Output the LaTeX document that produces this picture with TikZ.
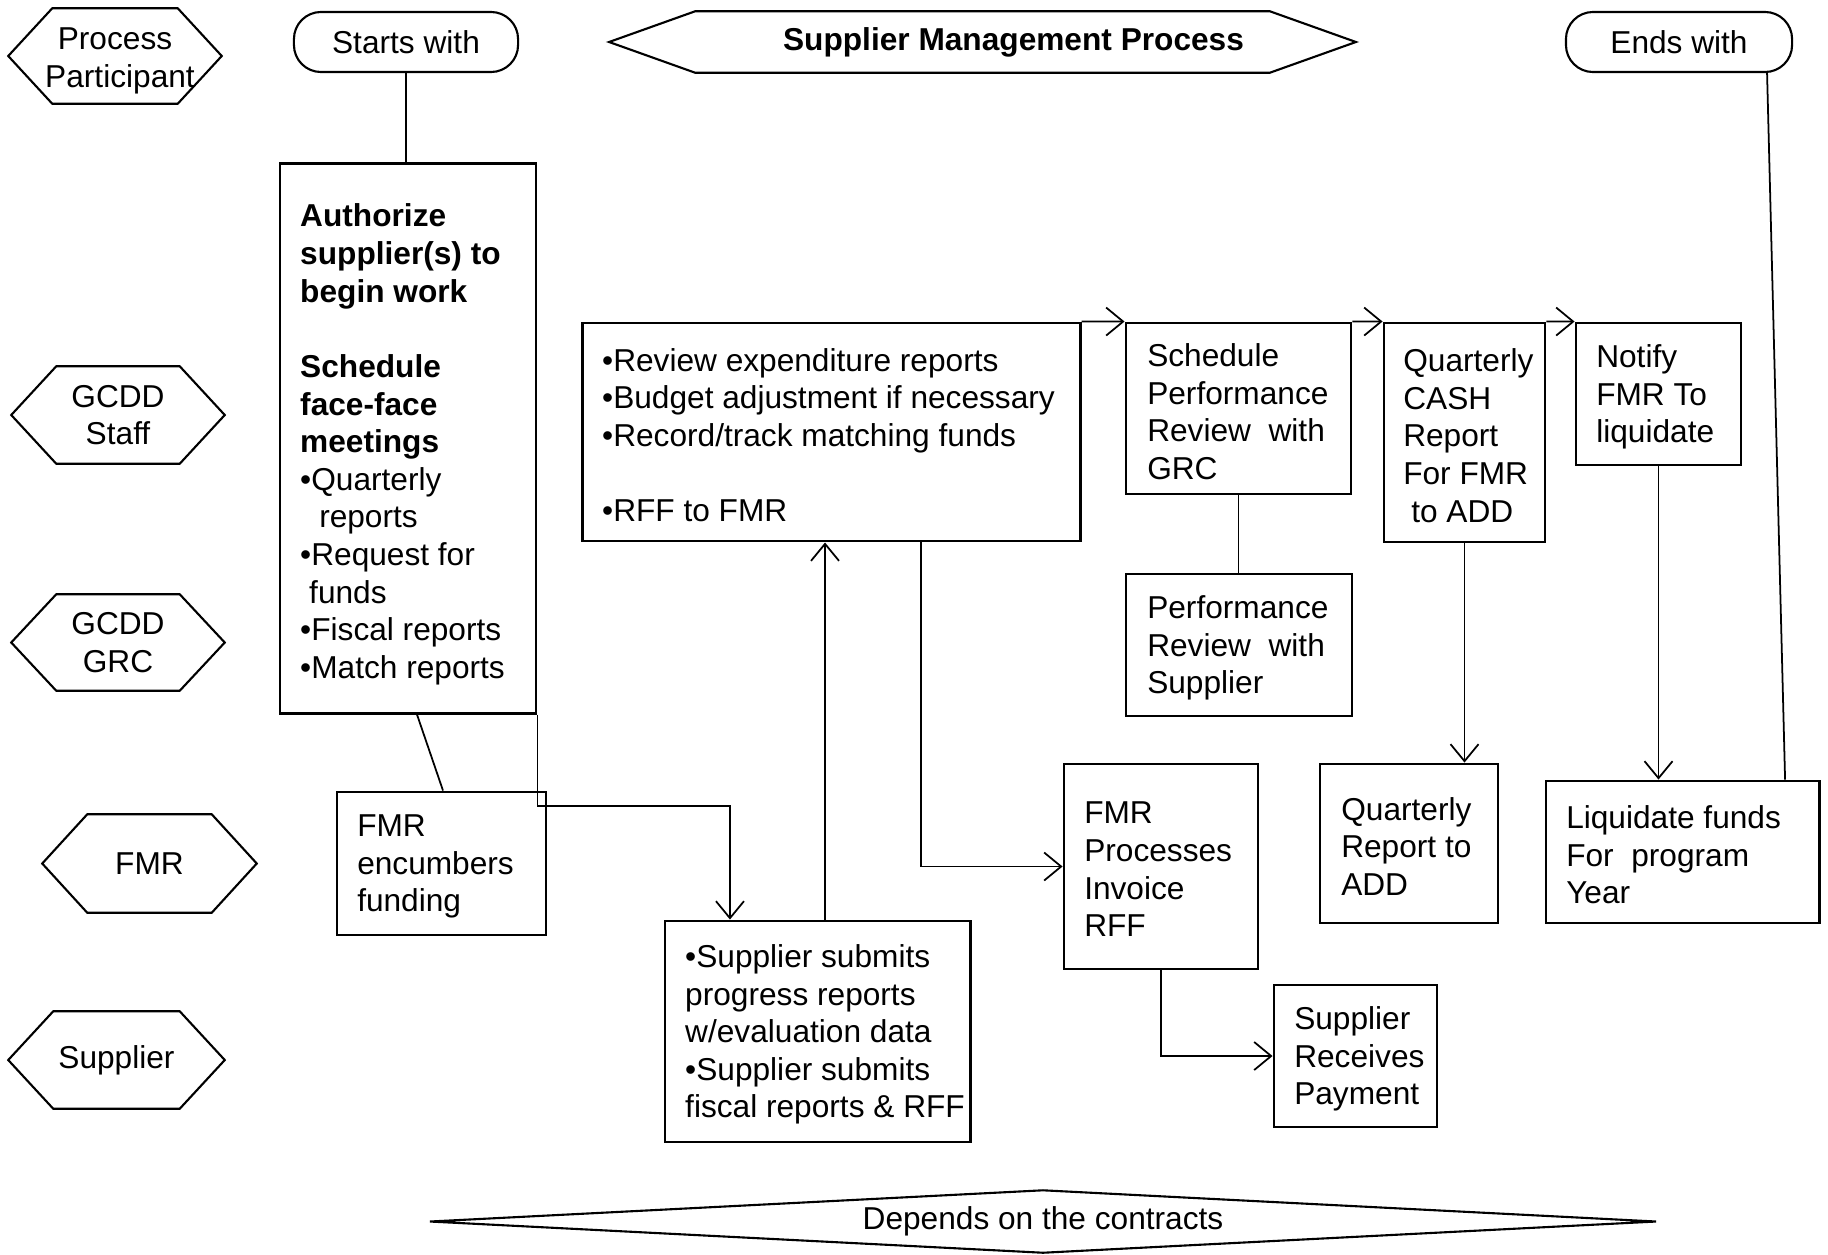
\documentclass[tikz,border=0pt]{standalone}
\usepackage{fontspec}
\setmainfont{Liberation Sans}
\usetikzlibrary{arrows.meta,calc}
\newcommand\fs{\fontsize{9pt}{10.7pt}\selectfont}
\newcommand\drawhex[2]{\draw[hexline] (#1.west) -- ([xshift=#2]#1.north west) -- ([xshift=-#2]#1.north east) -- (#1.east) -- ([xshift=-#2]#1.south east) -- ([xshift=#2]#1.south west) -- cycle;}
\tikzset{
  every node/.style={font=\fs},
  box/.style={draw, line width=0.8pt, inner sep=0pt},
  txt/.style={align=left, inner sep=0pt, anchor=west, yshift=-0.03cm},
  pill/.style={draw, line width=0.6pt, rounded corners=0.27cm, inner sep=0pt, minimum height=0.60cm},
  hexnode/.style={inner sep=0pt, align=center},
  hexline/.style={line width=0.6pt},
  conn/.style={line width=0.5pt},
  arr/.style={conn, -{Straight Barb[length=1.7mm,width=2.8mm]}},
}
\begin{document}
\begin{tikzpicture}[x=0.01cm,y=-0.01cm]
\useasboundingbox (0,0) rectangle (1828,1254);
% header
\node[hexnode, minimum width=2.12cm, minimum height=0.94cm] (pp) at (115,56) {\raisebox{-0.13cm}[0pt][0pt]{\begin{tabular}{@{}c@{}}Process\\\hspace*{0.1cm}Participant\end{tabular}}};
\drawhex{pp}{0.44cm}
\node[pill, minimum width=2.24cm] (start) at (406,42) {Starts with};
\node[hexnode, minimum width=7.45cm, minimum height=0.60cm] (title) at (982.5,42) {\hspace*{0.62cm}\textbf{Supplier Management Process}};
\drawhex{title}{0.86cm}
\node[pill, minimum width=2.26cm] (ends) at (1679,42) {Ends with};
% participants
\node[hexnode, minimum width=2.12cm, minimum height=0.96cm] (gs) at (118,415) {GCDD\\Staff};
\drawhex{gs}{0.45cm}
\node[hexnode, minimum width=2.12cm, minimum height=0.95cm] (gg) at (118,642.5) {GCDD\\GRC};
\drawhex{gg}{0.45cm}
\node[hexnode, minimum width=2.13cm, minimum height=0.97cm] (fmrh) at (149.5,863.5) {FMR};
\drawhex{fmrh}{0.45cm}
\node[hexnode, minimum width=2.15cm, minimum height=0.96cm] (suph) at (116.5,1060) {Supplier};
\drawhex{suph}{0.45cm}
% boxes
\node[box, minimum width=2.56cm, minimum height=5.49cm] (auth) at (408,438.5) {};
\node[txt, yshift=-0.03cm] (autht) at ([xshift=0.21cm]auth.west) {\textbf{Authorize}\\\textbf{supplier(s) to}\\\textbf{begin work}\\[10.7pt]\textbf{Schedule}\\\textbf{face-face}\\\textbf{meetings}\\•Quarterly\\\hspace*{0.19cm}reports\\•Request for\\\hspace*{0.09cm}funds\\•Fiscal reports\\•Match reports};
\node[box, minimum width=4.97cm, minimum height=2.18cm] (rev) at (831.5,432) {};
\node[txt] (revt) at ([xshift=0.20cm]rev.west) {•Review expenditure reports\\•Budget adjustment if necessary\\•Record/track matching funds\\[10.7pt]•RFF to FMR};
\node[box, minimum width=2.25cm, minimum height=1.71cm] (sched) at (1238.5,408.5) {};
\node[txt] (schedt) at ([xshift=0.22cm]sched.west) {Schedule\\Performance\\Review\ \ with\\GRC};
\node[box, minimum width=1.61cm, minimum height=2.19cm] (cash) at (1464.5,432.5) {};
\node[txt] (casht) at ([xshift=0.20cm]cash.west) {Quarterly\\CASH\\Report\\For FMR\\\hspace*{0.08cm}to ADD};
\node[box, minimum width=1.65cm, minimum height=1.42cm] (notify) at (1658.5,394) {};
\node[txt] (notifyt) at ([xshift=0.21cm]notify.west) {Notify\\FMR To\\liquidate};
\node[box, minimum width=2.26cm, minimum height=1.42cm] (perf) at (1239,645) {};
\node[txt] (perft) at ([xshift=0.22cm]perf.west) {Performance\\Review\ \ with\\Supplier};
\node[box, minimum width=2.09cm, minimum height=1.43cm] (enc) at (441.5,863.5) {};
\node[txt] (enct) at ([xshift=0.21cm]enc.west) {FMR\\encumbers\\funding};
\node[box, minimum width=3.05cm, minimum height=2.21cm] (sub) at (817.5,1031.5) {};
\node[txt] (subt) at ([xshift=0.21cm]sub.west) {•Supplier submits\\progress reports\\w/evaluation data\\•Supplier submits\\fiscal reports \& RFF};
\node[box, minimum width=1.94cm, minimum height=2.05cm] (proc) at (1161,866.5) {};
\node[txt] (proct) at ([xshift=0.21cm]proc.west) {FMR\\Processes\\Invoice\\RFF};
\node[box, minimum width=1.78cm, minimum height=1.59cm] (qr) at (1409,843.5) {};
\node[txt] (qrt) at ([xshift=0.22cm]qr.west) {Quarterly\\Report to\\ADD};
\node[box, minimum width=2.73cm, minimum height=1.42cm] (liq) at (1682.5,852) {};
\node[txt] (liqt) at ([xshift=0.21cm]liq.west) {Liquidate funds\\For\ \ program\\Year};
\node[box, minimum width=1.63cm, minimum height=1.42cm] (pay) at (1355.5,1056) {};
\node[txt] (payt) at ([xshift=0.21cm]pay.west) {Supplier\\Receives\\Payment};
% footer diamond
\node[inner sep=0pt, minimum width=12.24cm, minimum height=0.61cm] (dep) at (1043,1221.5) {Depends on the contracts};
\draw[hexline] (dep.west) -- (dep.north) -- (dep.east) -- (dep.south) -- cycle;
% connectors
\draw[conn] (start.south) -- (auth.north -| start.south);
\draw[conn] ([xshift=0.09cm]auth.south) -- ([xshift=0.015cm]enc.north);
\coordinate (bend1) at ([yshift=-0.91cm]auth.south east);
\draw[arr] (auth.south east) -- (bend1) -| ([xshift=-0.875cm]sub.north);
\draw[arr] ([xshift=0.075cm]sub.north) -- ([xshift=0.075cm]sub.north |- rev.south);
\draw[arr] ([xshift=0.895cm]rev.south) |- (proc.west);
\draw[arr] (rev.north east) -- (sched.north west);
\draw[arr] (sched.north east) -- (cash.north west);
\draw[arr] (cash.north east) -- (notify.north west);
\draw[conn] (sched.south) -- (perf.north -| sched.south);
\draw[arr] (cash.south) -- (cash.south |- qr.north);
\draw[arr] (notify.south) -- (notify.south |- liq.north);
\draw[conn] ([xshift=0.88cm]ends.south) -- ([xshift=1.025cm]liq.north);
\draw[arr] (proc.south) |- (pay.west);
\end{tikzpicture}
\end{document}
